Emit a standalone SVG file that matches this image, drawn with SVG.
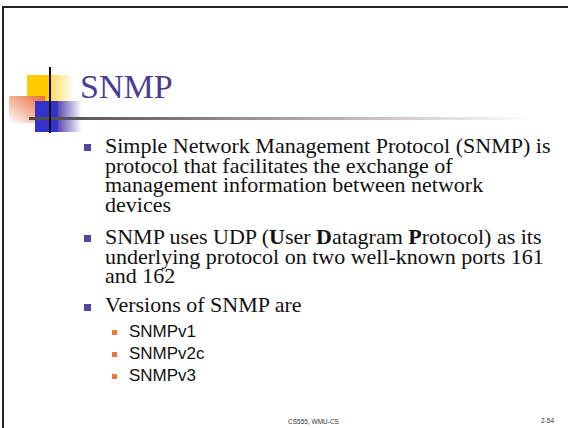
<svg xmlns="http://www.w3.org/2000/svg" width="568" height="428" viewBox="0 0 568 428">
  <defs>
    <linearGradient id="ruleFade" x1="29" y1="0" x2="535" y2="0" gradientUnits="userSpaceOnUse">
      <stop offset="0" stop-color="#4a4a4a"/>
      <stop offset="0.35" stop-color="#8a827e"/>
      <stop offset="1" stop-color="#ffffff"/>
    </linearGradient>
    <linearGradient id="yellowFade" x1="0" y1="0" x2="1" y2="0">
      <stop offset="0" stop-color="#fcd95a"/>
      <stop offset="1" stop-color="#ffffff"/>
    </linearGradient>
    <linearGradient id="blueFade" x1="0" y1="0" x2="1" y2="0">
      <stop offset="0" stop-color="#5a4cb0"/>
      <stop offset="1" stop-color="#ffffff"/>
    </linearGradient>
    <linearGradient id="orangeFade" x1="1" y1="0" x2="0" y2="1">
      <stop offset="0" stop-color="#ee6a30"/>
      <stop offset="0.55" stop-color="#f6b8a0"/>
      <stop offset="1" stop-color="#ffffff"/>
    </linearGradient>
  </defs>
  <style>
    .body { font-family: "Liberation Serif", "Times New Roman", serif; font-size: 22px; fill: #111111; }
    .sub { font-family: "Liberation Sans", Arial, sans-serif; font-size: 17px; fill: #111111; }
    .foot { font-family: "Liberation Sans", Arial, sans-serif; font-size: 6.5px; fill: #333333; }
    .title { font-family: "Liberation Serif", "Times New Roman", serif; font-size: 34px; fill: #4a3c94; }
    .b1 { fill: #5544a0; }
    .b2 { fill: #f07838; }
  </style>

  <rect width="568" height="428" fill="#ffffff"/>

  <!-- slide frame: top and left edges -->
  <g id="frame" fill="#222222">
    <rect x="2" y="6" width="566" height="2"/>
    <rect x="2" y="6" width="2" height="422"/>
  </g>

  <!-- title ornament -->
  <g id="logo">
    <rect x="27" y="75" width="23" height="26" fill="#ffcc00"/>
    <rect x="50" y="75" width="24" height="26" fill="url(#yellowFade)"/>
    <rect x="9" y="96" width="36" height="27" fill="url(#orangeFade)"/>
    <rect x="35" y="101" width="23" height="31" fill="#3333cc"/>
    <rect x="58" y="101" width="24" height="31" fill="url(#blueFade)"/>
    <rect x="29" y="117" width="506" height="3" fill="url(#ruleFade)"/>
    <rect x="49" y="67" width="2" height="66" fill="#111111"/>
  </g>

  <g id="title">
    <text class="title" x="80" y="98">SNMP</text>
  </g>

  <g id="bullets">
    <rect class="b1" x="84" y="144" width="7" height="7"/>
    <text class="body" x="105" y="153">Simple Network Management Protocol (SNMP) is</text>
    <text class="body" x="105" y="172.5">protocol that facilitates the exchange of</text>
    <text class="body" x="105" y="192">management information between network</text>
    <text class="body" x="105" y="211.5">devices</text>

    <rect class="b1" x="84" y="235" width="7" height="7"/>
    <text class="body" x="105" y="244">SNMP uses UDP (<tspan font-weight="bold">U</tspan>ser <tspan font-weight="bold">D</tspan>atagram <tspan font-weight="bold">P</tspan>rotocol) as its</text>
    <text class="body" x="105" y="263.5">underlying protocol on two well-known ports 161</text>
    <text class="body" x="105" y="283">and 162</text>

    <rect class="b1" x="84" y="304" width="7" height="7"/>
    <text class="body" x="105" y="312">Versions of SNMP are</text>
  </g>

  <g id="versions">
    <rect class="b2" x="112" y="330" width="5" height="5"/>
    <text class="sub" x="129" y="336.5">SNMPv1</text>
    <rect class="b2" x="112" y="352" width="5" height="5"/>
    <text class="sub" x="129" y="358.5">SNMPv2c</text>
    <rect class="b2" x="112" y="374" width="5" height="5"/>
    <text class="sub" x="129" y="380.5">SNMPv3</text>
  </g>

  <g id="footer">
    <text class="foot" x="313.5" y="424" text-anchor="middle">CS555, WMU-CS</text>
    <text class="foot" x="554" y="423" text-anchor="end">2-54</text>
  </g>
</svg>
